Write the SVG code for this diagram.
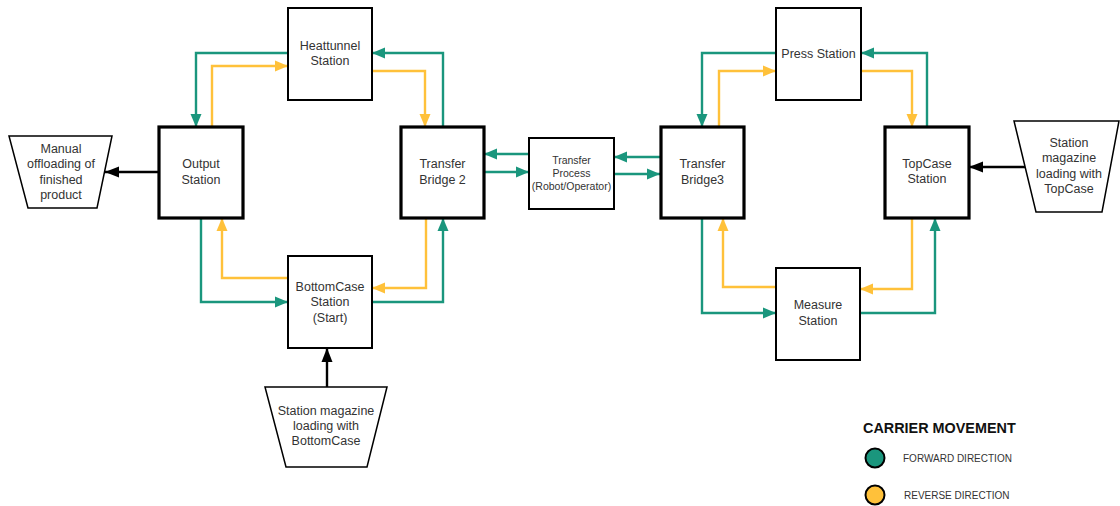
<svg xmlns="http://www.w3.org/2000/svg" width="1120" height="506" viewBox="0 0 1120 506">
  <style>
    .lbl { font-family: "Liberation Sans", Arial, sans-serif; font-size: 12.5px; fill: #333333; text-anchor: middle; }
    .small { font-size: 10.5px; }
    .trap-lbl { font-size: 12.5px; }
    .box { fill: #ffffff; stroke: #000000; stroke-width: 2; }
    .box-thick { fill: #ffffff; stroke: #000000; stroke-width: 3.2; }
    .trap { fill: #ffffff; stroke: #000000; stroke-width: 1.5; }
    .fwd { fill: none; stroke: #1A967D; stroke-width: 2.4; }
    .rev { fill: none; stroke: #FFC13A; stroke-width: 2.4; }
    .feed { fill: none; stroke: #000000; stroke-width: 2.4; }
    .legend-title { font-family: "Liberation Sans", Arial, sans-serif; font-size: 14.4px; font-weight: bold; fill: #111111; }
    .legend-lbl { font-family: "Liberation Sans", Arial, sans-serif; font-size: 10px; fill: #333333; }
  </style>
  <defs>
    <marker id="arrow-fwd" markerUnits="userSpaceOnUse" markerWidth="14" markerHeight="12" refX="13" refY="6" orient="auto">
      <path d="M0,0.5 L13,6 L0,11.5 z" fill="#1A967D"/>
    </marker>
    <marker id="arrow-rev" markerUnits="userSpaceOnUse" markerWidth="14" markerHeight="12" refX="13" refY="6" orient="auto">
      <path d="M0,0.5 L13,6 L0,11.5 z" fill="#FFC13A"/>
    </marker>
    <marker id="arrow-feed" markerUnits="userSpaceOnUse" markerWidth="15" markerHeight="12" refX="14" refY="6" orient="auto">
      <path d="M0,0.5 L14,6 L0,11.5 z" fill="#000000"/>
    </marker>
  </defs>

  <rect width="1120" height="506" fill="#ffffff"/>

  <!-- carrier paths between stations -->
  <g id="connectors">
    <!-- left loop -->
    <path class="fwd" d="M288,53 H196 V127" marker-end="url(#arrow-fwd)"/>
    <path class="rev" d="M212,127 V66 H288" marker-end="url(#arrow-rev)"/>
    <path class="fwd" d="M443,127 V53 H372" marker-end="url(#arrow-fwd)"/>
    <path class="rev" d="M372,71 H425 V127" marker-end="url(#arrow-rev)"/>
    <path class="fwd" d="M201,218 V302 H288" marker-end="url(#arrow-fwd)"/>
    <path class="rev" d="M288,278 H222 V218" marker-end="url(#arrow-rev)"/>
    <path class="fwd" d="M372,302 H443 V218" marker-end="url(#arrow-fwd)"/>
    <path class="rev" d="M426,218 V288 H372" marker-end="url(#arrow-rev)"/>
    <!-- transfer links -->
    <path class="fwd" d="M529,154 H484" marker-end="url(#arrow-fwd)"/>
    <path class="fwd" d="M484,172 H529" marker-end="url(#arrow-fwd)"/>
    <path class="fwd" d="M660,157 H614" marker-end="url(#arrow-fwd)"/>
    <path class="fwd" d="M614,174 H660" marker-end="url(#arrow-fwd)"/>
    <!-- right loop -->
    <path class="fwd" d="M776,53 H702 V127" marker-end="url(#arrow-fwd)"/>
    <path class="rev" d="M719,127 V71 H776" marker-end="url(#arrow-rev)"/>
    <path class="fwd" d="M927,127 V53 H861" marker-end="url(#arrow-fwd)"/>
    <path class="rev" d="M861,71 H912 V127" marker-end="url(#arrow-rev)"/>
    <path class="fwd" d="M702,218 V313 H776" marker-end="url(#arrow-fwd)"/>
    <path class="rev" d="M776,287 H723 V218" marker-end="url(#arrow-rev)"/>
    <path class="rev" d="M912,218 V289 H860" marker-end="url(#arrow-rev)"/>
    <path class="fwd" d="M860,313 H935 V218" marker-end="url(#arrow-fwd)"/>
    <!-- loading / unloading -->
    <path class="feed" d="M159,172 H105" marker-end="url(#arrow-feed)"/>
    <path class="feed" d="M327,387 V348" marker-end="url(#arrow-feed)"/>
    <path class="feed" d="M1025,167 H969" marker-end="url(#arrow-feed)"/>
  </g>

  <g id="offloading">
    <polygon class="trap" points="9,136 112,136 97,208 28,208"/>
    <text class="lbl trap-lbl" x="61" y="152.5">Manual</text>
    <text class="lbl trap-lbl" x="61" y="168">offloading of</text>
    <text class="lbl trap-lbl" x="61" y="183.5">finished</text>
    <text class="lbl trap-lbl" x="61" y="199">product</text>
  </g>

  <g id="output-station">
    <rect class="box-thick" x="159" y="127" width="84" height="91"/>
    <text class="lbl" x="201" y="168">Output</text>
    <text class="lbl" x="201" y="183.5">Station</text>
  </g>

  <g id="heattunnel-station">
    <rect class="box" x="288" y="8" width="84" height="92"/>
    <text class="lbl" x="330" y="49.5">Heattunnel</text>
    <text class="lbl" x="330" y="65">Station</text>
  </g>

  <g id="bottomcase-station">
    <rect class="box" x="288" y="256" width="84" height="92"/>
    <text class="lbl" x="330" y="290.5">BottomCase</text>
    <text class="lbl" x="330" y="306">Station</text>
    <text class="lbl" x="330" y="321.5">(Start)</text>
  </g>

  <g id="bottomcase-magazine">
    <polygon class="trap" points="265,387 387,387 367,467 286,467"/>
    <text class="lbl trap-lbl" x="326" y="414.5">Station magazine</text>
    <text class="lbl trap-lbl" x="326" y="429.5">loading with</text>
    <text class="lbl trap-lbl" x="326" y="444.5">BottomCase</text>
  </g>

  <g id="transfer-bridge-2">
    <rect class="box-thick" x="401" y="127" width="83" height="91"/>
    <text class="lbl" x="442.5" y="167.5">Transfer</text>
    <text class="lbl" x="442.5" y="183.5">Bridge 2</text>
  </g>

  <g id="transfer-process">
    <rect class="box" x="529" y="138" width="85" height="71"/>
    <text class="lbl small" x="571.5" y="163.5">Transfer</text>
    <text class="lbl small" x="571.5" y="176.5">Process</text>
    <text class="lbl small" x="571.5" y="189.5">(Robot/Operator)</text>
  </g>

  <g id="transfer-bridge-3">
    <rect class="box-thick" x="661" y="127" width="83" height="91"/>
    <text class="lbl" x="702.5" y="167.5">Transfer</text>
    <text class="lbl" x="702.5" y="183.5">Bridge3</text>
  </g>

  <g id="press-station">
    <rect class="box" x="776" y="8" width="85" height="92"/>
    <text class="lbl" x="818.5" y="57.5">Press Station</text>
  </g>

  <g id="measure-station">
    <rect class="box" x="776" y="268" width="84" height="92"/>
    <text class="lbl" x="818" y="309">Measure</text>
    <text class="lbl" x="818" y="324.5">Station</text>
  </g>

  <g id="topcase-station">
    <rect class="box-thick" x="885" y="127" width="84" height="91"/>
    <text class="lbl" x="927" y="167.5">TopCase</text>
    <text class="lbl" x="927" y="183">Station</text>
  </g>

  <g id="topcase-magazine">
    <polygon class="trap" points="1014,121 1119,121 1102,212 1036,212"/>
    <text class="lbl trap-lbl" x="1069" y="146.5">Station</text>
    <text class="lbl trap-lbl" x="1069" y="162">magazine</text>
    <text class="lbl trap-lbl" x="1069" y="177.5">loading with</text>
    <text class="lbl trap-lbl" x="1069" y="193">TopCase</text>
  </g>

  <g id="legend">
    <text class="legend-title" x="863" y="433">CARRIER MOVEMENT</text>
    <circle cx="875" cy="458" r="9.5" fill="#1A967D" stroke="#000000" stroke-width="2"/>
    <text class="legend-lbl" x="903" y="461.5">FORWARD DIRECTION</text>
    <circle cx="875" cy="495" r="9.5" fill="#FFC13A" stroke="#000000" stroke-width="2"/>
    <text class="legend-lbl" x="904" y="498.5">REVERSE DIRECTION</text>
  </g>
</svg>
